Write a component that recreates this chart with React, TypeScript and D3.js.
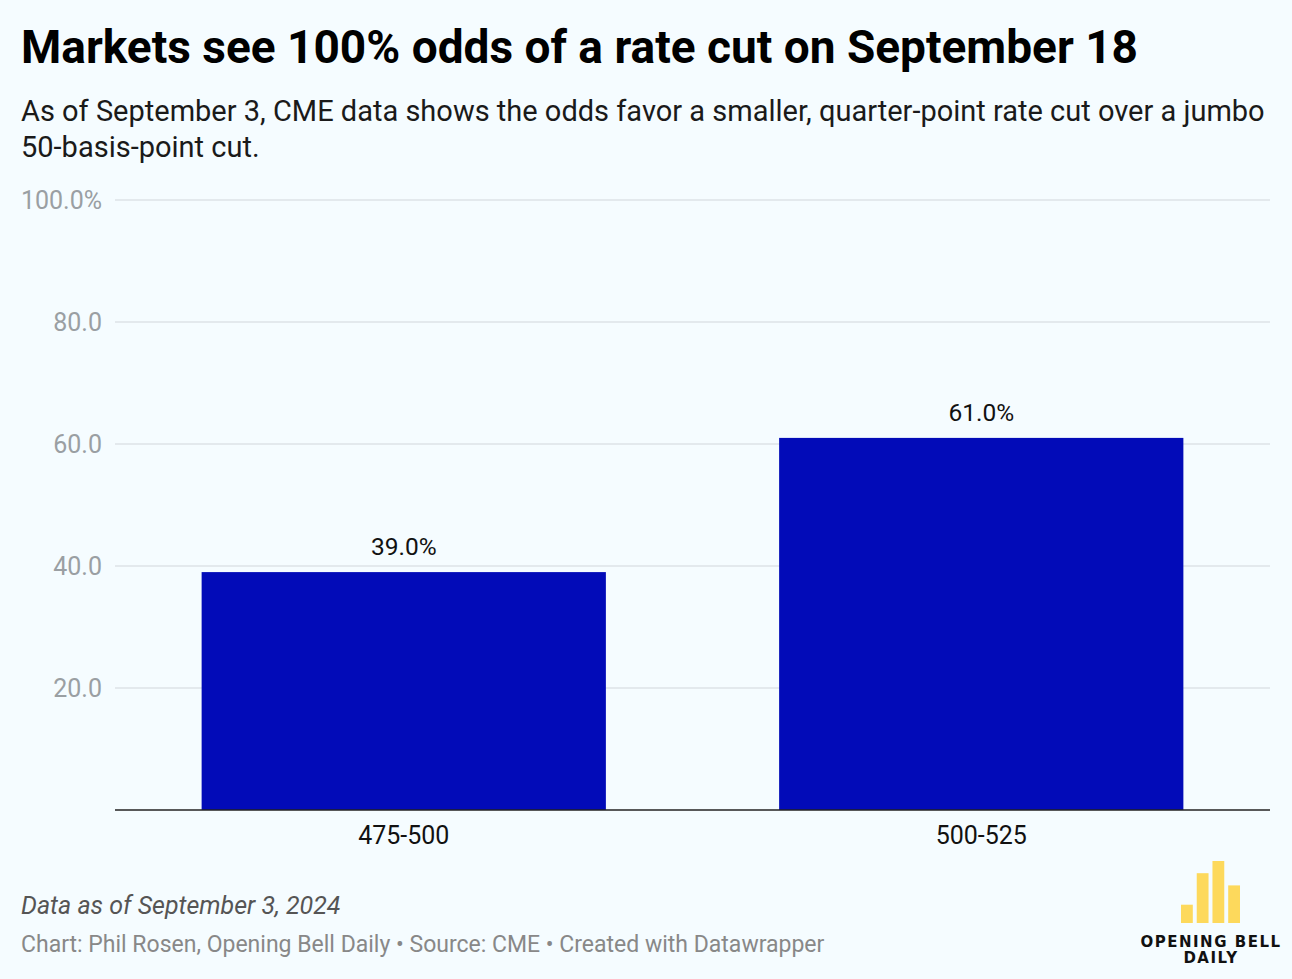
import React, { useEffect, useRef } from 'react';
import * as d3 from 'd3';

// Data
const categories = ['475-500', '500-525'];
const odds = [39.0, 61.0];
const yTicks = [20, 40, 60, 80, 100];

// logo bars (relative heights)
const logoBars = [18, 49, 61, 37];

const App: React.FC = () => {
  const svgRef = useRef<SVGSVGElement>(null);

  useEffect(() => {
    document.body.style.margin = '0';
    document.body.style.background = '#f5fcff';
    if (!svgRef.current) return;

    const svg = d3.select(svgRef.current);
    svg.selectAll('*').remove();

    const width = 1292;
    const height = 979;
    const font = 'Roboto, "Noto Sans", sans-serif';

    svg.append('rect').attr('width', width).attr('height', height).attr('fill', '#f5fcff');

    // Header
    svg.append('text')
      .attr('x', 21).attr('y', 63)
      .style('font-family', font).style('font-weight', 700).style('font-size', '46px')
      .attr('fill', '#000')
      .text('Markets see 100% odds of a rate cut on September 18');

    const sub = svg.append('text')
      .style('font-family', font).style('font-size', '29px')
      .attr('fill', '#1a1a1a');
    sub.append('tspan').attr('x', 21).attr('y', 121)
      .text('As of September 3, CME data shows the odds favor a smaller, quarter-point rate cut over a jumbo');
    sub.append('tspan').attr('x', 21).attr('y', 157).text('50-basis-point cut.');

    const x = d3.scaleBand<string>()
      .domain(categories)
      .range([115, 1270])
      .paddingInner(0.3)
      .paddingOuter(0.15);

    const y = d3.scaleLinear().domain([0, 100]).range([810, 200]);

    // gridlines
    svg.append('g').selectAll('line').data(yTicks).join('line')
      .attr('x1', 115).attr('x2', 1270)
      .attr('y1', d => y(d)).attr('y2', d => y(d))
      .attr('stroke', '#dde3e7').attr('stroke-width', 1.5);

    svg.append('g').selectAll('text').data(yTicks).join('text')
      .attr('x', 102).attr('y', d => y(d) + 9)
      .attr('text-anchor', 'end')
      .style('font-family', font).style('font-size', '25px')
      .attr('fill', '#9a9fa3')
      .text(d => (d === 100 ? '100.0%' : d.toFixed(1)));

    // bars
    svg.append('g').selectAll('rect').data(odds).join('rect')
      .attr('x', (_, i) => x(categories[i])!)
      .attr('width', x.bandwidth())
      .attr('y', d => y(d))
      .attr('height', d => y(0) - y(d))
      .attr('fill', '#020bb8');

    svg.append('g').selectAll('text').data(odds).join('text')
      .attr('x', (_, i) => x(categories[i])! + x.bandwidth() / 2)
      .attr('y', d => y(d) - 17)
      .attr('text-anchor', 'middle')
      .style('font-family', font).style('font-size', '24.5px')
      .attr('fill', '#111')
      .text(d => `${d.toFixed(1)}%`);

    // baseline
    svg.append('line')
      .attr('x1', 115).attr('x2', 1270)
      .attr('y1', y(0)).attr('y2', y(0))
      .attr('stroke', '#222').attr('stroke-width', 1.5);

    svg.append('g').selectAll('text').data(categories).join('text')
      .attr('x', d => x(d)! + x.bandwidth() / 2)
      .attr('y', 844)
      .attr('text-anchor', 'middle')
      .style('font-family', font).style('font-size', '25px')
      .attr('fill', '#111')
      .text(d => d);

    // footer
    svg.append('text')
      .attr('x', 21).attr('y', 914)
      .style('font-family', font).style('font-style', 'italic').style('font-size', '25px')
      .attr('fill', '#555')
      .text('Data as of September 3, 2024');

    svg.append('text')
      .attr('x', 21).attr('y', 952)
      .style('font-family', font).style('font-size', '23px')
      .attr('fill', '#888')
      .text('Chart: Phil Rosen, Opening Bell Daily • Source: CME • Created with Datawrapper');

    // logo
    const lx = d3.scaleBand<number>().domain(d3.range(logoBars.length)).range([1181, 1240]).paddingInner(0.25);
    const ly = d3.scaleLinear().domain([0, 61]).range([923, 861]);
    svg.append('g').selectAll('rect').data(logoBars).join('rect')
      .attr('x', (_, i) => lx(i)!)
      .attr('width', lx.bandwidth())
      .attr('y', d => ly(d))
      .attr('height', d => ly(0) - ly(d))
      .attr('fill', '#fdd95c');

    const logoText = svg.append('text')
      .attr('text-anchor', 'middle')
      .style('font-family', '"DejaVu Sans", sans-serif').style('font-weight', 700)
      .style('font-size', '15px').style('letter-spacing', '1.5px')
      .attr('fill', '#111');
    logoText.append('tspan').attr('x', 1211).attr('y', 947).text('OPENING BELL');
    logoText.append('tspan').attr('x', 1211).attr('y', 963).text('DAILY');
  }, []);

  return <svg ref={svgRef} width={1292} height={979} style={{ display: 'block' }} />;
};

export default App;
